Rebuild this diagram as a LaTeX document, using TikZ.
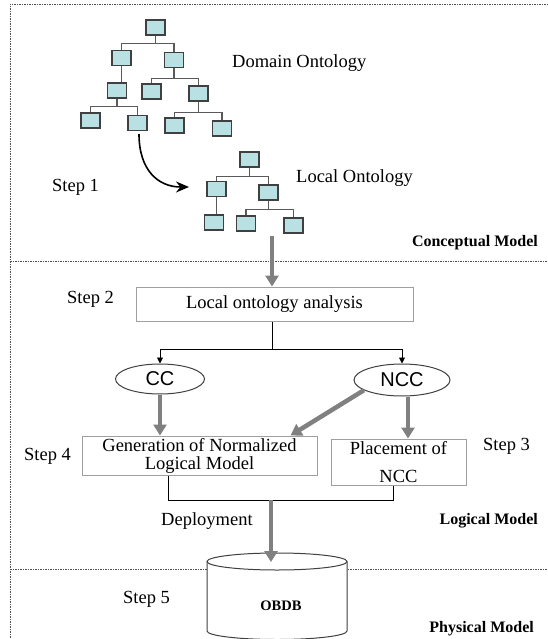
\documentclass[tikz,border=0pt]{standalone}
\usepackage{fontspec}
\setmainfont{Liberation Serif}
\newfontfamily\arialfont{Liberation Sans}
\usetikzlibrary{arrows.meta,calc,shapes.geometric}
\definecolor{boxfill}{RGB}{185,224,226}
\definecolor{boxline}{RGB}{64,64,64}
\definecolor{treeline}{RGB}{90,90,90}
\definecolor{flowgray}{RGB}{128,128,128}
\definecolor{framegray}{RGB}{80,80,80}
\begin{document}
\begin{tikzpicture}[x=1pt,y=-1pt,
  cls/.style={draw=boxline,line width=1.3pt,fill=boxfill,minimum width=19pt,minimum height=15pt,inner sep=0pt},
  branch/.style={draw=treeline,line width=1.1pt},
  lbl/.style={font=\fontsize{18.5}{21}\selectfont,inner sep=0pt},
  layer/.style={font=\fontsize{16}{19}\selectfont\bfseries,inner sep=0pt,anchor=east},
  procbox/.style={draw=gray!75,line width=1pt,font=\fontsize{18.5}{21}\selectfont,align=center,inner sep=0pt},
  oval/.style={ellipse,draw=boxline,line width=1pt,fill=white,font=\arialfont\fontsize{20}{23}\selectfont,inner sep=0pt},
  split/.style={draw=black,line width=0.9pt},
  splitarrow/.style={split,-{Triangle[width=6pt,length=6pt]}},
  flow/.style={draw=flowgray,line width=4.5pt,-{Triangle[width=13pt,length=11pt]}},
  sep/.style={draw=framegray,line width=0.8pt,dash pattern=on 1.5pt off 1pt}]

\useasboundingbox (0,0) rectangle (547,639);

% frame and layer separators
\draw[sep] (10,660) -- (10,4) -- (570,4);
\draw[sep] (10,261) -- (570,261);
\draw[sep] (10,569) -- (570,569);

% domain ontology tree
\node[cls] (d0) at (155.5,27.5) {};
\node[cls] (d1) at (121.5,58) {};
\node[cls] (d2) at (174,60) {};
\node[cls] (d3) at (117,90.5) {};
\node[cls] (d4) at (151.5,91.5) {};
\node[cls] (d5) at (198.5,93.5) {};
\node[cls] (d6) at (90.5,120.5) {};
\node[cls] (d7) at (137.5,123) {};
\node[cls] (d8) at (174.5,125.5) {};
\node[cls] (d9) at (222,128.5) {};
\draw[branch] (d0.south) -- ++(0,7.5) -| (d1.north);
\draw[branch] (d0.south) -- ++(0,7.5) -| (d2.north);
\draw[branch] (d1.south) -- (d1.south |- d3.north);
\draw[branch] (d2.south) -- ++(0,10) -| (d4.north);
\draw[branch] (d2.south) -- ++(0,10) -| (d5.north);
\draw[branch] (d3.south) -- ++(0,8) -| (d6.north);
\draw[branch] (d3.south) -- ++(0,8) -| (d7.north);
\draw[branch] (d5.south) -- ++(0,11) -| (d8.north);
\draw[branch] (d5.south) -- ++(0,11) -| (d9.north);
\node[lbl,anchor=west] (dom) at (232,63) {Domain Ontology};

% local ontology tree
\node[cls] (l0) at (249.5,159.5) {};
\node[cls] (l1) at (216.5,189) {};
\node[cls] (l2) at (268.5,192.5) {};
\node[cls] (l3) at (214,222.5) {};
\node[cls] (l4) at (246,223.5) {};
\node[cls] (l5) at (293.5,225.5) {};
\draw[branch] (l0.south) -- ++(0,9) -| (l1.north);
\draw[branch] (l0.south) -- ++(0,9) -| (l2.north);
\draw[branch] (l1.south) -- (l1.south |- l3.north);
\draw[branch] (l2.south) -- ++(0,9) -| (l4.north);
\draw[branch] (l2.south) -- ++(0,9) -| (l5.north);
\node[lbl,anchor=west] (loc) at (296,178) {Local Ontology};

% extraction step
\coordinate (xs) at (139,134);
\coordinate (xe) at (189,187);
\draw[line width=1.6pt,-{Stealth[length=13pt,width=11pt]}] (xs) .. controls (139,170) and (158,187) .. (xe);
\node[lbl,anchor=west] (s1) at (52,187) {Step 1};
\node[layer] (cm) at (538,243) {Conceptual Model};

% analysis
\node[procbox,minimum width=277pt,minimum height=34pt] (loa) at (274.5,304) {Local ontology analysis};
\node[lbl,anchor=west] (s2) at (67,299) {Step 2};
\coordinate (lt) at (272,236);
\draw[flow] (lt) -- (lt |- loa.north);

\node[oval,minimum width=89pt,minimum height=30pt] (cc) at (160,379) {CC};
\node[oval,minimum width=96pt,minimum height=32pt] (ncc) at (402,380) {NCC};
\coordinate (fork) at (272,349);
\draw[split] (loa.south -| fork) -- (fork);
\draw[splitarrow] (fork) -| (cc.north);
\draw[splitarrow] (fork) -| (ncc.north);

% logical model
\node[procbox,minimum width=235pt,minimum height=39pt] (gen) at (199.5,455.5) {Generation of Normalized\\[-3pt]Logical Model};
\node[procbox,minimum width=135pt,minimum height=46pt] (place) at (398.5,462) {Placement of\\[7pt]NCC};
\draw[flow] (cc.south) -- (cc.south |- gen.north);
\draw[flow] (ncc.195) -- ($(gen.north east)+(-27,0)$);
\draw[flow] ($(ncc.south)+(6,0)$) -- ($(place.north)+(9.5,0)$);
\node[lbl,anchor=west] (s4) at (24,456) {Step 4};
\node[lbl,anchor=west] (s3) at (483,446) {Step 3};

\coordinate (jl) at (168,500);
\coordinate (jr) at (393,500);
\coordinate (dep) at (271,500);
\draw[line width=1pt] (gen.south -| jl) -- (jl) -- (jr) -- (place.south -| jr);
\node[lbl,anchor=west] (dpl) at (161,521) {Deployment};
\node[layer] (lm) at (538,521) {Logical Model};

% physical model: database cylinder
\draw[boxline,line width=1pt,fill=white] (207,561.5) -- (207,631) arc[start angle=180,end angle=0,x radius=70,y radius=8.5] -- (347,561.5);
\draw[boxline,line width=1pt,fill=white] (277,561.5) ellipse[x radius=70,y radius=8.5];
\coordinate (dbtop) at (271,562);
\draw[flow] (dep) -- (dbtop);
\node[font=\fontsize{14.5}{17}\selectfont\bfseries,inner sep=0pt] (db) at (281,606) {OBDB};
\node[lbl,anchor=west] (s5) at (123,599) {Step 5};
\node[layer] (pm) at (534,629) {Physical Model};
\end{tikzpicture}
\end{document}
